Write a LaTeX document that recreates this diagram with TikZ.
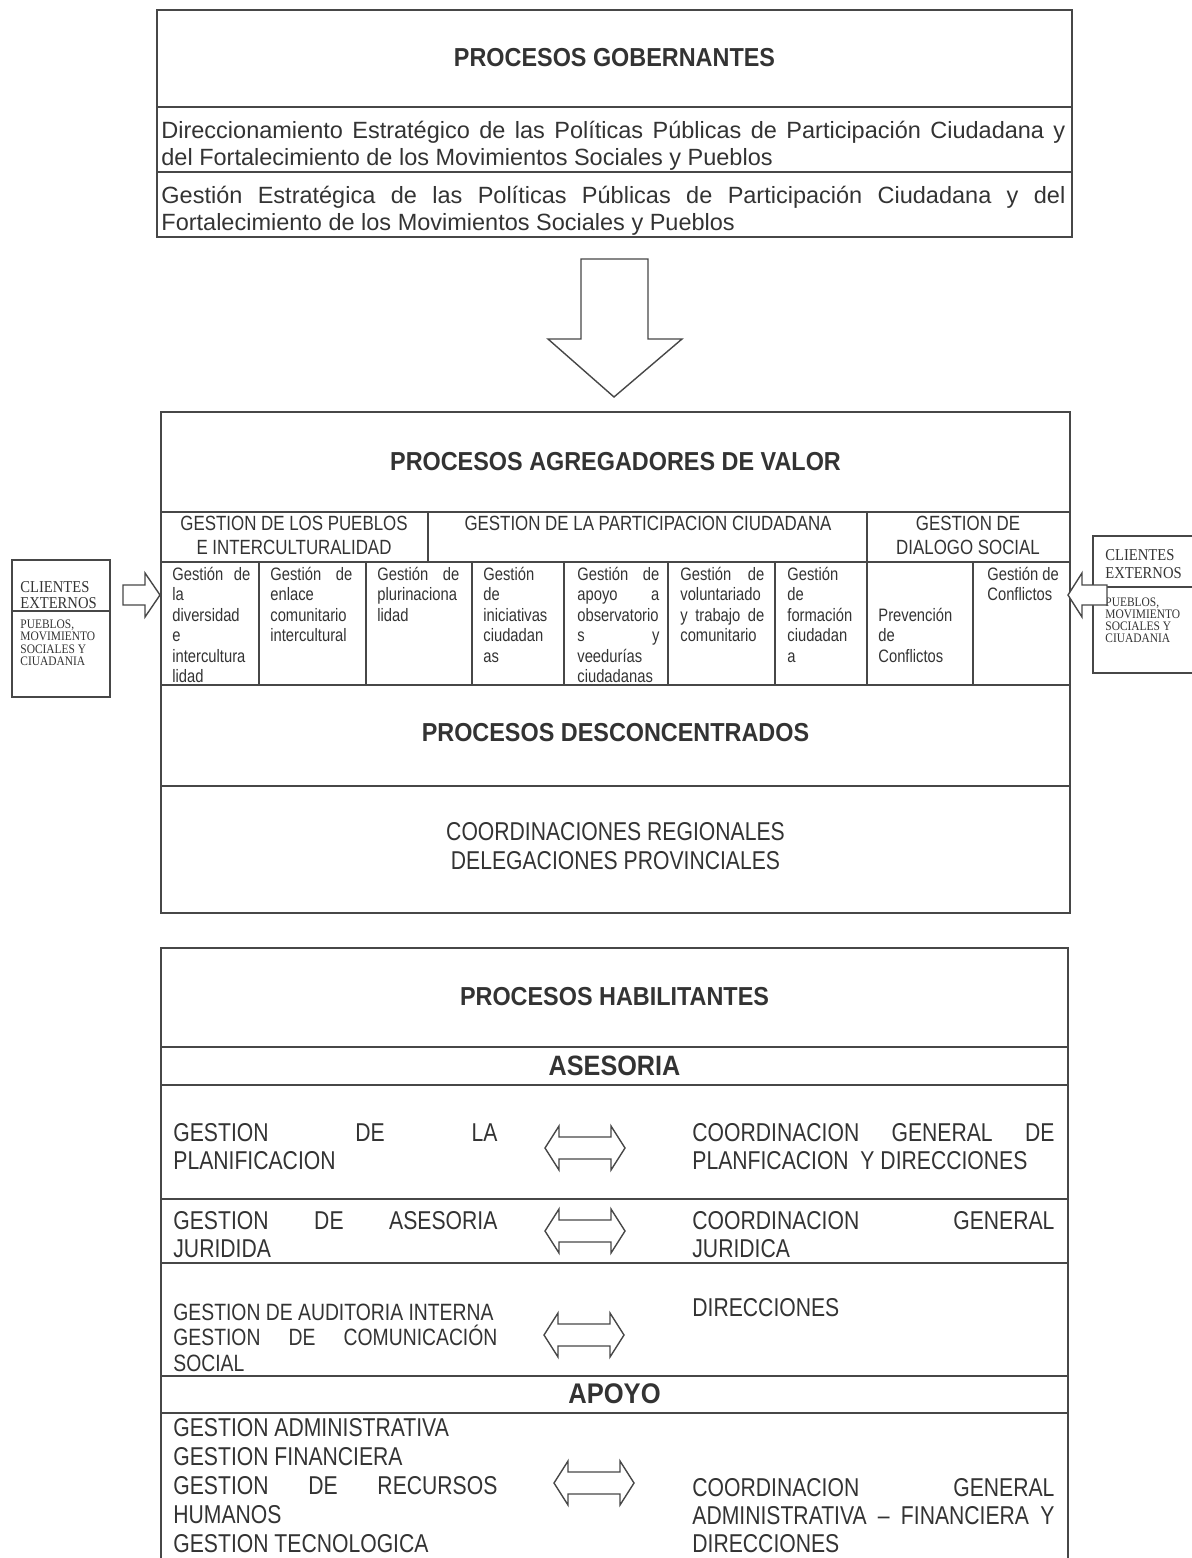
\documentclass[tikz,border=0pt]{standalone}
\usepackage{fontspec}
\setmainfont{Liberation Sans}
\newfontfamily\reg{Liberation Sans}
\newfontfamily\nar{Liberation Sans}[FakeStretch=0.82]
\newfontfamily\tit{Liberation Sans}[FakeStretch=0.9]
\newfontfamily\ser{Liberation Serif}[FakeStretch=0.88]
\newcommand\jl[1]{\makebox[\hsize][s]{\spaceskip=0pt\xspaceskip=0pt\relax #1}}
\definecolor{ink}{gray}{0.2}
\definecolor{rulec}{gray}{0.28}
\begin{document}
\begin{tikzpicture}[x=0.5pt,y=-0.5pt,
  nsp/.style={execute at begin node={\spaceskip=0pt\xspaceskip=0pt\relax}},
  frame/.style={draw=rulec, line width=0.7pt, inner sep=0pt, outer sep=0pt, anchor=north west},
  ln/.style={draw=rulec, line width=0.7pt},
  blk/.style={draw=rulec, line width=0.7pt, fill=white, line join=miter},
  titl/.style={inner sep=0pt, text=ink, font=\tit\bfseries\fontsize{13}{15}\selectfont},
  body/.style={nsp, inner sep=0pt, text=ink, anchor=base west, align=justify, font=\reg\fontsize{11.75}{13.5}\selectfont},
  head/.style={nsp, inner sep=0pt, text=ink, align=center, font=\nar\fontsize{10.3}{12}\selectfont},
  cell/.style={nsp, inner sep=0pt, text=ink, anchor=base west, align=justify, font=\nar\fontsize{9}{10.25}\selectfont},
  lcol/.style={nsp, inner sep=0pt, text=ink, anchor=base west, align=justify, text width=162pt, font=\nar\fontsize{12.9}{14}\selectfont},
  rcol/.style={nsp, inner sep=0pt, text=ink, anchor=base west, align=justify, text width=181pt, font=\nar\fontsize{12.9}{14}\selectfont},
  cliA/.style={nsp, inner sep=0pt, text=ink, anchor=base west, align=left, text width=44pt, font=\ser\fontsize{8.3}{8}\selectfont},
  cliB/.style={nsp, inner sep=0pt, text=ink, anchor=base west, align=left, text width=44pt, font=\ser\fontsize{6.5}{6.3}\selectfont},
  dbl/.pic={\draw[blk] (-40,0) -- (-26,-22) -- (-26,-11) -- (26,-11) -- (26,-22) -- (40,0)
            -- (26,22) -- (26,11) -- (-26,11) -- (-26,22) -- cycle;}
]
\useasboundingbox (0,0) rectangle (1192,1558);

% ---------------- Procesos gobernantes
\node[frame, minimum width=457.5pt, minimum height=113.5pt] (gob) at (157,10) {};
\draw[ln] (157,107) -- (1072,107);
\draw[ln] (157,172) -- (1072,172);
\node[titl] (tgob) at (614.5,58) {PROCESOS GOBERNANTES};
\node[body, text width=452pt] (dir) at (161,138)
  {\jl{Direccionamiento Estratégico de las Políticas Públicas de Participación Ciudadana y}\\del Fortalecimiento de los Movimientos Sociales y Pueblos};
\node[body, text width=452pt] (ges) at (161,203)
  {\jl{Gestión Estratégica de las Políticas Públicas de Participación Ciudadana y del}\\Fortalecimiento de los Movimientos Sociales y Pueblos};

% ---------------- big down arrow
\draw[blk] (581,259) -- (648,259) -- (648,339) -- (682,339) -- (614,397) -- (548,339) -- (581,339) -- cycle;

% ---------------- Procesos agregadores de valor
\node[frame, minimum width=454.5pt, minimum height=250.5pt] (agr) at (161,412) {};
\node[titl] (tagr) at (615.5,462) {PROCESOS AGREGADORES DE VALOR};
\draw[ln] (161,512) -- (1070,512);
\draw[ln] (161,562) -- (1070,562);
\draw[ln] (161,685) -- (1070,685);
\draw[ln] (161,786) -- (1070,786);
\draw[ln] (428,512) -- (428,562);
\draw[ln] (867,512) -- (867,685);
\foreach \xx in {259,366,472,564,668,775,973} {\draw[ln] (\xx,562) -- (\xx,685);}

\node[head] (hpue) at (294,535) {GESTION DE LOS PUEBLOS\\E INTERCULTURALIDAD};
\node[head] (hpar) at (648,523) {GESTION DE LA PARTICIPACION CIUDADANA};
\node[head] (hdia) at (968,535) {GESTION DE\\DIALOGO SOCIAL};

\node[cell, text width=39pt] (c1) at (172,580) {\jl{Gestión de}\\la\\diversidad\\e\\intercultura\\lidad};
\node[cell, text width=41pt] (c2) at (270,580) {\jl{Gestión de}\\enlace\\comunitario\\intercultural};
\node[cell, text width=41pt] (c3) at (377,580) {\jl{Gestión de}\\plurinaciona\\lidad};
\node[cell, text width=38pt] (c4) at (483,580) {Gestión\\de\\iniciativas\\ciudadan\\as};
\node[cell, text width=41pt] (c5) at (577,580) {\jl{Gestión de}\\\jl{apoyo a}\\observatorio\\\jl{s y}\\veedurías\\ciudadanas};
\node[cell, text width=42pt] (c6) at (680,580) {\jl{Gestión de}\\voluntariado\\\jl{y trabajo de}\\comunitario};
\node[cell, text width=38pt] (c7) at (787,580) {Gestión\\de\\formación\\ciudadan\\a};
\node[cell, text width=41pt] (c8) at (878,621) {Prevención\\de\\Conflictos};
\node[cell, text width=40pt] (c9) at (987,580) {Gestión de\\Conflictos};

\node[titl] (tdes) at (615.5,733) {PROCESOS DESCONCENTRADOS};
\node[head, font=\nar\fontsize{12.9}{14.5}\selectfont] (coord) at (615.5,846)
  {COORDINACIONES REGIONALES\\DELEGACIONES PROVINCIALES};

% ---------------- clientes externos
\node[frame, minimum width=49pt, minimum height=68.5pt] (cliL) at (12,560) {};
\draw[ln] (12,611) -- (110,611);
\node[cliA] (cliLa) at (20,592) {CLIENTES\\EXTERNOS};
\node[cliB] (cliLb) at (20,628) {PUEBLOS,\\MOVIMIENTO\\SOCIALES Y\\CIUADANIA};
\draw[blk] (123,585) -- (145,585) -- (145,573) -- (160,595) -- (145,617) -- (145,605) -- (123,605) -- cycle;

\node[frame, minimum width=56pt, minimum height=68.5pt] (cliR) at (1093,536) {};
\draw[ln] (1093,587) -- (1205,587);
\node[cliA, font=\ser\fontsize{8.3}{9}\selectfont] (cliRa) at (1105,560) {CLIENTES\\EXTERNOS};
\node[cliB, font=\ser\fontsize{6.5}{6}\selectfont] (cliRb) at (1105,606) {PUEBLOS,\\MOVIMIENTO\\SOCIALES Y\\CIUADANIA};
\draw[blk] (1107,585) -- (1082,585) -- (1082,573) -- (1068,595) -- (1082,617) -- (1082,605) -- (1107,605) -- cycle;

% ---------------- Procesos habilitantes
\node[frame, minimum width=453.5pt, minimum height=311pt] (hab) at (161,948) {};
\node[titl] (thab) at (614.5,997) {PROCESOS HABILITANTES};
\draw[ln] (161,1047) -- (1068,1047);
\node[titl, font=\tit\bfseries\fontsize{14}{16}\selectfont] (tase) at (614.5,1066) {ASESORIA};
\draw[ln] (161,1085) -- (1068,1085);
\draw[ln] (161,1199) -- (1068,1199);
\draw[ln] (161,1263) -- (1068,1263);
\draw[ln] (161,1376) -- (1068,1376);
\node[titl, font=\tit\bfseries\fontsize{14.2}{16}\selectfont] (tapo) at (614.5,1394) {APOYO};
\draw[ln] (161,1413) -- (1068,1413);

\node[lcol] (l1) at (173,1141) {\jl{GESTION DE LA}\\PLANIFICACION};
\node[rcol] (r1) at (692,1141) {\jl{COORDINACION GENERAL DE}\\PLANFICACION\ \ Y DIRECCIONES};
\pic (a1) at (585,1148) {dbl};

\node[lcol] (l2) at (173,1229) {\jl{GESTION DE ASESORIA}\\JURIDIDA};
\node[rcol] (r2) at (692,1229) {\jl{COORDINACION GENERAL}\\JURIDICA};
\pic (a2) at (585,1231) {dbl};

\node[lcol, font=\nar\fontsize{11.8}{12.9}\selectfont] (l3) at (173,1320) {GESTION DE AUDITORIA INTERNA\\\jl{GESTION DE COMUNICACIÓN}\\SOCIAL};
\node[rcol] (r3) at (692,1316) {DIRECCIONES};
\pic (a3) at (584,1335) {dbl};

\node[lcol, font=\nar\fontsize{12.9}{14.5}\selectfont] (l4) at (173,1436) {GESTION ADMINISTRATIVA\\GESTION FINANCIERA\\\jl{GESTION DE RECURSOS}\\HUMANOS\\GESTION TECNOLOGICA};
\node[rcol] (r4) at (692,1496) {\jl{COORDINACION GENERAL}\\\jl{ADMINISTRATIVA – FINANCIERA Y}\\DIRECCIONES};
\pic (a4) at (594,1483) {dbl};
\end{tikzpicture}
\end{document}
